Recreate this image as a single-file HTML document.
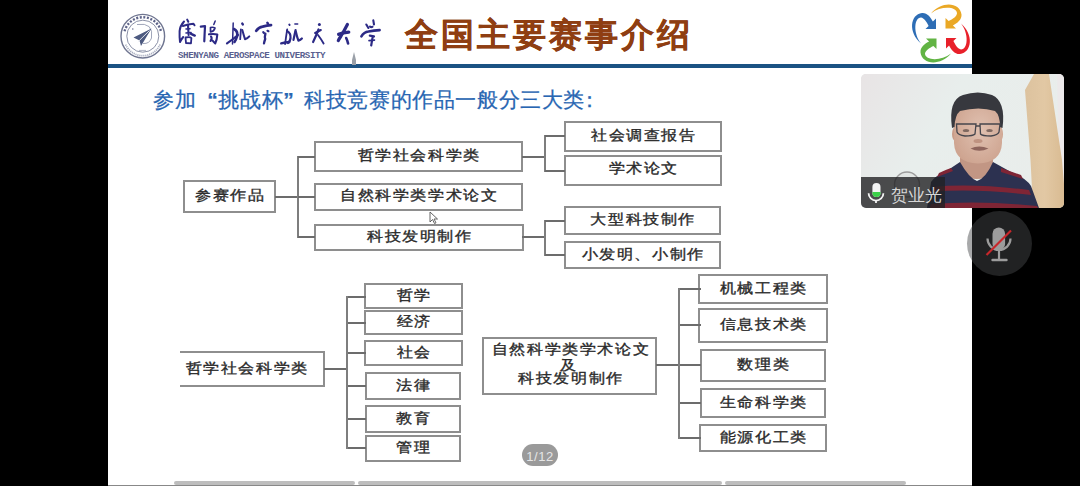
<!DOCTYPE html>
<html><head><meta charset="utf-8">
<style>
*{margin:0;padding:0;box-sizing:border-box}
html,body{width:1080px;height:486px;overflow:hidden;background:#000}
body{position:relative;font-family:"Liberation Serif",serif}
.slide{position:absolute;left:108px;top:0;width:864px;height:486px;background:#fff}
.hline{position:absolute;left:108px;width:864px;top:64px;height:4px;background:#1a5283}
.title{position:absolute;left:405px;top:15px;font-family:"Liberation Sans",sans-serif;font-weight:bold;font-size:33px;letter-spacing:3px;color:#8f3e12;-webkit-text-stroke:0.3px #8f3e12;white-space:nowrap;line-height:40px}
.sub{position:absolute;left:153px;top:86.5px;font-family:"Liberation Sans",sans-serif;font-size:21px;letter-spacing:0.6px;font-weight:500;color:#2866b2;-webkit-text-stroke:0.25px #2866b2;white-space:nowrap;line-height:26px}
.q1{margin-left:11px;font-weight:bold}.q2{margin-right:10px;font-weight:bold}.colon{position:relative;left:-6px}
.box{position:absolute;border:2px solid #8e8e8e;background:#fff;color:#2a2a2a;font-size:16px;letter-spacing:1.6px;text-indent:1.6px;font-weight:500;-webkit-text-stroke:0.4px #2a2a2a;text-align:center;white-space:nowrap;display:flex;align-items:center;justify-content:center;line-height:17px}
.box span,.tl span{display:inline-block;transform:translateY(-1px) scaleY(0.87)}
.tl{position:absolute;color:#2a2a2a;font-size:16px;letter-spacing:1.6px;text-indent:1.6px;font-weight:500;-webkit-text-stroke:0.4px #2a2a2a;text-align:center;white-space:nowrap;line-height:17px}
.ln{position:absolute}.lh{background:#6c6c6c}.lv{background:#7e7e7e}
.bar{position:absolute;top:481px;height:4px;background:#bdbdbd;border-radius:2px}
.bottomline{position:absolute;left:108px;top:485px;width:864px;height:1px;background:#888}
.cal{position:absolute;top:14px;font-size:25px;line-height:30px;color:#2a2f86;font-style:italic;font-family:"Liberation Serif",serif}
.eng{position:absolute;left:178px;top:50.5px;font-family:"Liberation Mono",monospace;font-weight:bold;font-size:9.2px;letter-spacing:-0.44px;line-height:10px;color:#5a5f8f;white-space:nowrap}
.pill{position:absolute;left:521.5px;top:444px;width:36.6px;height:21.5px;border-radius:11px;background:#9a9a9a;color:#e6e6e6;font-family:"Liberation Sans",sans-serif;font-size:13px;line-height:25px;letter-spacing:0.6px;text-indent:0.6px;text-align:center}
.tile{position:absolute;left:861px;top:74px;width:203px;height:134px;border-radius:5px;overflow:hidden;background:#e5e9e7}
.mute{position:absolute;left:966.5px;top:210.5px;width:65px;height:65px;border-radius:50%;background:rgba(70,72,75,0.47)}
</style></head>
<body>
<div class="slide"></div>
<div class="hline"></div>
<!-- emblem -->
<svg style="position:absolute;left:118px;top:11px" width="50" height="50" viewBox="0 0 50 50">
  <circle cx="24.8" cy="25.2" r="21.8" fill="#fff" stroke="#6f7590" stroke-width="1.4"/>
  <circle cx="24.8" cy="25.2" r="16" fill="none" stroke="#7d839c" stroke-width="0.9"/>
  <path d="M6.6 20.3 A18.8 18.8 0 0 1 43 20.3" fill="none" stroke="#5d6388" stroke-width="2.4" stroke-dasharray="2 1.6"/>
  <path d="M42 33.5 A18.8 18.8 0 0 1 7.6 33.5" fill="none" stroke="#a9aec0" stroke-width="1.8" stroke-dasharray="1.2 0.8"/>
  <path d="M19 13.5 Q36 11 33.5 27 Q31.5 33 25 32.5" fill="none" stroke="#a0a6ba" stroke-width="1"/>
  <path d="M15.5 26.5 L33.5 17.5 L23 35 L21.5 29.5 Z" fill="#4d5a80"/>
  <path d="M19.8 31 L31.5 19.5" stroke="#eef0f5" stroke-width="0.9"/>
  <circle cx="14.8" cy="18" r="0.8" fill="#6a7090"/>
  <path d="M21 39.5 L28 39.5" stroke="#b8bccb" stroke-width="1.2"/>
</svg>
<!-- calligraphy -->
<svg style="position:absolute;left:0;top:0" width="400" height="50" viewBox="0 0 400 50">
 <g fill="none" stroke="#2c2a86" stroke-linecap="round" stroke-linejoin="round">
  <!-- char1 -->
  <path d="M184 21.5 Q180 26 179.6 31 Q179.4 37 180 42 Q181.5 39 183.2 37" stroke-width="2"/>
  <path d="M187.2 19.6 L188.3 21.8" stroke-width="2"/>
  <path d="M182.8 26 Q188 24 193.5 23.8 L194.5 25.3" stroke-width="2"/>
  <path d="M188 25 Q188.3 30 188.6 35" stroke-width="2.1"/>
  <path d="M186 29 L190 28.7 M186 33 L191 32.5" stroke-width="1.6"/>
  <path d="M191 33.8 L194.8 35.6" stroke-width="2.4"/>
  <path d="M185.5 37.5 L186 43 M185.5 37.5 Q190 36.5 191.4 38 L191 43.3 M186 43 L191 43.3" stroke-width="1.8"/>
  <!-- char2 -->
  <path d="M200.8 26.6 L205 26.2 Q204.6 34 204.3 41.3" stroke-width="2.2"/>
  <path d="M213.8 24.5 L215.2 21" stroke-width="1.5"/>
  <path d="M210.5 27.5 Q213 26.8 215 28 Q214 31.5 210.5 32 Z" stroke-width="1.7"/>
  <path d="M209 34.3 Q214 33.5 217.3 34.5 Q217 40 215.2 43.4 Q213.5 42 212.5 40.5 M211 36.5 Q212.5 38 210.5 41" stroke-width="2.1"/>
  <!-- char3 -->
  <path d="M233.2 23.1 Q232.8 34 232.5 44" stroke-width="1.5"/>
  <path d="M234 29 Q238 31 237.2 36 Q236 40 234.5 42" stroke-width="2.6"/>
  <path d="M227 43.4 Q232 40 238 35" stroke-width="2.2"/>
  <path d="M242.3 23.6 L242.8 24.4" stroke-width="2.4"/>
  <path d="M240.9 29.4 Q240.6 34 240.2 39.2" stroke-width="1.8"/>
  <path d="M242.3 30 Q244 36 245 39.2 Q247.5 38.5 249.3 36.4" stroke-width="2"/>
  <!-- char4 -->
  <path d="M256.3 30.8 Q259 27 262.6 26.6 Q267 25.5 271 25.2" stroke-width="2.8"/>
  <path d="M267.3 22.8 L268 23.6" stroke-width="2.4"/>
  <path d="M263.3 32.2 L264 33 M267.5 30.8 L268.4 31.2" stroke-width="2.2"/>
  <path d="M265.4 33.6 Q264.5 37 265.2 39 Q264.3 41.5 264 43.4" stroke-width="2.3"/>
  <!-- char5 -->
  <path d="M289.3 24.5 L289.6 25" stroke-width="2"/>
  <path d="M287.2 29.4 Q286 37 285.1 44.1" stroke-width="1.8"/>
  <path d="M287 31 Q291 33 290.5 38 Q290 42 288 43" stroke-width="2.2"/>
  <path d="M281.2 43.4 Q285 42.5 289.3 42" stroke-width="2.3"/>
  <path d="M294.9 24.1 L297.7 24.1" stroke-width="1.5"/>
  <path d="M295.6 30 Q294.5 35 293.5 39.9" stroke-width="2.2"/>
  <path d="M295.8 31.5 Q297 37 298.4 40.6 Q300.5 40 301.9 38.5" stroke-width="2.2"/>
  <!-- char6 -->
  <circle cx="319.4" cy="24.5" r="1.5" fill="#2c2a86" stroke="none"/>
  <path d="M315.2 32.9 L320.8 30.1" stroke-width="2.2"/>
  <path d="M318.5 29.5 Q316 36 313.1 42" stroke-width="2.2"/>
  <path d="M318 35 Q321 39 323.6 43.4" stroke-width="1.9"/>
  <!-- char7 -->
  <path d="M338.6 34.3 Q343 32.5 348.8 32.2" stroke-width="3.2"/>
  <path d="M347.4 24.5 Q344 31 341 36 Q339 39 338.3 40.6" stroke-width="3.2"/>
  <path d="M346.2 38 Q347.6 41 348.1 43.4" stroke-width="2.6"/>
  <!-- char8 -->
  <path d="M366.3 24.5 L368.4 28 M373.3 20.3 L374 24.5 M370 26.5 Q371 27.5 372.5 26.8" stroke-width="2.1"/>
  <path d="M361.4 36.4 Q364 32 368.4 31.5 Q374 30.6 379.6 30.1" stroke-width="2.6"/>
  <path d="M369.8 35.7 L374 36.4 L372.6 37.1 Q372 41 371.2 45.5" stroke-width="2.2"/>
  <path d="M369 40.6 L374.5 40.1" stroke-width="1.6"/>
 </g>
</svg>
<div class="eng">SHENYANG AEROSPACE UNIVERSITY</div>
<svg style="position:absolute;left:350px;top:52px" width="8" height="13" viewBox="0 0 8 13"><path d="M4 0 L6 8 L6 13 L2 13 L2 8 Z" fill="#9aa0a8"/></svg>
<div class="title">全国主要赛事介绍</div>
<!-- arrows logo -->
<svg style="position:absolute;left:901px;top:0px" width="80" height="70" viewBox="-40 -33.5 80 70">
  <defs><path id="arw" d="M -20 10 C -33 -1, -31 -19, -19 -20.5 C -14 -21, -10 -16, -8.1 -11.9 L -5 -15 L -5 -4.5 L -15.5 -4.5 L -12.4 -7.6 C -14.5 -12, -17 -15.5, -20 -16 C -27 -16, -28 0, -20 10 Z"/></defs>
  <use href="#arw" fill="#2d6db5"/>
  <use href="#arw" fill="#eaa825" transform="rotate(90)"/>
  <use href="#arw" fill="#e8202a" transform="rotate(180)"/>
  <use href="#arw" fill="#62b444" transform="rotate(270)"/>
</svg>
<div class="slide" style="left:972px;width:108px;height:80px;background:#000"></div>
<div class="sub">参加<span class="q1">“</span>挑战杯<span class="q2">”</span>科技竞赛的作品一般分三大类<span class="colon">：</span></div>
<div class="box" style="left:183px;top:180px;width:93px;height:33px;"><span>参赛作品</span></div>
<div class="box" style="left:314px;top:141px;width:209px;height:31px;"><span>哲学社会科学类</span></div>
<div class="box" style="left:314px;top:183px;width:209px;height:28px;padding-bottom:2px"><span>自然科学类学术论文</span></div>
<div class="box" style="left:314px;top:224px;width:210px;height:27px;"><span>科技发明制作</span></div>
<div class="box" style="left:564px;top:121px;width:158px;height:31px;"><span>社会调查报告</span></div>
<div class="box" style="left:564px;top:155px;width:158px;height:31px;padding-bottom:2px"><span>学术论文</span></div>
<div class="box" style="left:564px;top:206px;width:157px;height:29px;"><span>大型科技制作</span></div>
<div class="box" style="left:564px;top:241px;width:157px;height:28px;"><span>小发明、小制作</span></div>
<div class="box" style="left:180px;top:351px;width:145px;height:36px;border-left:none;justify-content:flex-start;padding-left:4px"><span>哲学社会科学类</span></div>
<div class="box" style="left:364px;top:283px;width:99px;height:26px;"><span>哲学</span></div>
<div class="box" style="left:364px;top:310px;width:99px;height:25px;"><span>经济</span></div>
<div class="box" style="left:364px;top:340px;width:99px;height:26px;"><span>社会</span></div>
<div class="box" style="left:365px;top:372px;width:96px;height:28px;"><span>法律</span></div>
<div class="box" style="left:365px;top:405px;width:96px;height:28px;"><span>教育</span></div>
<div class="box" style="left:365px;top:435px;width:96px;height:27px;"><span>管理</span></div>
<div class="box" style="left:482px;top:337px;width:175px;height:58px;"><span></span></div>
<div class="box" style="left:698px;top:274px;width:130px;height:30px;"><span>机械工程类</span></div>
<div class="box" style="left:698px;top:308px;width:130px;height:35px;"><span>信息技术类</span></div>
<div class="box" style="left:700px;top:349px;width:126px;height:33px;"><span>数理类</span></div>
<div class="box" style="left:700px;top:388px;width:126px;height:30px;"><span>生命科学类</span></div>
<div class="box" style="left:699px;top:424px;width:128px;height:28px;"><span>能源化工类</span></div>
<div class="ln lh" style="left:275px;top:196px;width:23px;height:2px"></div>
<div class="ln lv" style="left:297px;top:156px;width:2px;height:82px"></div>
<div class="ln lh" style="left:298px;top:156px;width:17px;height:2px"></div>
<div class="ln lh" style="left:298px;top:196px;width:17px;height:2px"></div>
<div class="ln lh" style="left:298px;top:236px;width:17px;height:2px"></div>
<div class="ln lh" style="left:522px;top:156px;width:23px;height:2px"></div>
<div class="ln lv" style="left:544px;top:135px;width:2px;height:37px"></div>
<div class="ln lh" style="left:545px;top:135px;width:20px;height:2px"></div>
<div class="ln lh" style="left:545px;top:170px;width:20px;height:2px"></div>
<div class="ln lh" style="left:522px;top:236px;width:23px;height:2px"></div>
<div class="ln lv" style="left:544px;top:220px;width:2px;height:36px"></div>
<div class="ln lh" style="left:545px;top:220px;width:20px;height:2px"></div>
<div class="ln lh" style="left:545px;top:254px;width:20px;height:2px"></div>
<div class="ln lh" style="left:324px;top:368px;width:24px;height:2px"></div>
<div class="ln lv" style="left:346px;top:296px;width:2px;height:153px"></div>
<div class="ln lh" style="left:348px;top:296px;width:18px;height:2px"></div>
<div class="ln lh" style="left:348px;top:322px;width:18px;height:2px"></div>
<div class="ln lh" style="left:348px;top:352px;width:18px;height:2px"></div>
<div class="ln lh" style="left:348px;top:385px;width:18px;height:2px"></div>
<div class="ln lh" style="left:348px;top:418px;width:18px;height:2px"></div>
<div class="ln lh" style="left:348px;top:447px;width:18px;height:2px"></div>
<div class="ln lh" style="left:656px;top:364px;width:24px;height:2px"></div>
<div class="ln lv" style="left:678px;top:288px;width:2px;height:151px"></div>
<div class="ln lh" style="left:680px;top:288px;width:21px;height:2px"></div>
<div class="ln lh" style="left:680px;top:324px;width:21px;height:2px"></div>
<div class="ln lh" style="left:680px;top:364px;width:21px;height:2px"></div>
<div class="ln lh" style="left:680px;top:402px;width:21px;height:2px"></div>
<div class="ln lh" style="left:680px;top:437px;width:21px;height:2px"></div>
<div class="tl" style="left:482.5px;top:341.5px;width:174px"><span>自然科学类学术论文</span></div><div class="tl" style="left:480.5px;top:357.5px;width:174px"><span>及</span></div><div class="tl" style="left:482.5px;top:371px;width:174px"><span>科技发明制作</span></div>
<!-- cursor -->
<svg style="position:absolute;left:429px;top:211px" width="10" height="14" viewBox="0 0 10 14"><path d="M1 1 L1 11 L3.5 8.5 L5.5 12.5 L7 11.8 L5 8 L8.5 8 Z" fill="#fff" stroke="#555" stroke-width="0.9"/></svg>
<div class="pill">1/12</div>
<div class="bar" style="left:174px;width:181px"></div>
<div class="bar" style="left:358px;width:364px"></div>
<div class="bar" style="left:725px;width:181px"></div>
<div class="bottomline"></div>
<!-- video tile -->
<div class="tile">
  <svg width="203" height="134" viewBox="0 0 203 134" style="position:absolute;left:0;top:0;filter:blur(0.5px)">
    <defs>
      <linearGradient id="wall" x1="0" y1="0" x2="1" y2="0.4">
        <stop offset="0" stop-color="#e8e4e5"/><stop offset="0.45" stop-color="#e8eeec"/><stop offset="1" stop-color="#e9edeb"/>
      </linearGradient>
      <linearGradient id="door" x1="0" y1="0" x2="1" y2="0">
        <stop offset="0" stop-color="#dcc29e"/><stop offset="0.5" stop-color="#e2c8a4"/><stop offset="1" stop-color="#d9bb92"/>
      </linearGradient>
      <radialGradient id="skin" cx="0.55" cy="0.45" r="0.6">
        <stop offset="0" stop-color="#e0c1b1"/><stop offset="1" stop-color="#cea490"/>
      </radialGradient>
    </defs>
    <rect width="203" height="134" fill="url(#wall)"/>
    <path d="M196 0 L203 0 L203 134 L199 134 Z" fill="#ece9ea"/>
    <!-- door -->
    <path d="M173 0 L188 0 L201 86 L203 110 L203 134 L172 134 L169.5 86 L164 16 Z" fill="url(#door)"/>
    <!-- fan -->
    <circle cx="46" cy="110.5" r="12.5" fill="#d8d8d8" fill-opacity="0.35" stroke="#9c9c9c" stroke-width="1.4"/>
    <!-- neck -->
    <path d="M99 80 L132 80 L132 100 Q116 110 99 100 Z" fill="#c29684"/>
    <!-- shirt -->
    <path d="M66 134 L70 108 Q74 102 84 98 L99 88 Q108 104 116 107 Q125 104 132 88 L150 98 Q165 104 170 112 L178 134 Z" fill="#2c3150"/>
    <path d="M78 99 Q84 96 90 94 L92 97 Q84 100 76 103 Z" fill="#7f2535"/>
    <path d="M140 94 L160 101 L162 105 L140 98 Z" fill="#7f2535"/>
    <path d="M72 113 Q110 109 168 116 L170 121 Q110 114 71 118 Z" fill="#7f2535"/>
    <path d="M70 130 Q120 126 176 132 L177 134 L69 134 Z" fill="#7f2535"/>
    <!-- face -->
    <ellipse cx="94.5" cy="60" rx="3.5" ry="7" fill="#c99c88"/>
    <ellipse cx="139" cy="60" rx="3" ry="7" fill="#cfa590"/>
    <path d="M93 44 Q93 28 116.5 28 Q141 28 141 44 L141 69 Q140 89 117 89.5 Q94 89 93 69 Z" fill="url(#skin)"/>
    <!-- hair -->
    <path d="M91 54 Q87 26 102 21 Q117 16 131 21 Q145 27 141.5 54 L139 53 Q139 41 134 37 Q118 32 99 37 Q94 41 93.5 53 Z" fill="#37383e"/>
    <!-- glasses -->
    <path d="M95.5 50 L115 50 L114 60 Q112 62 104 62 Q97 61 96 58 Z" fill="none" stroke="#45454c" stroke-width="1.3"/>
    <path d="M119 50 L139 50 L138 58 Q137 61 130 62 Q121 62 119.5 60 Z" fill="none" stroke="#45454c" stroke-width="1.3"/>
    <path d="M115 52 L119 52" stroke="#3f3f46" stroke-width="1.4"/>
    <!-- eyes/nose -->
    <ellipse cx="105" cy="56.5" rx="3.2" ry="1.6" fill="#6a5650" opacity="0.8"/>
    <ellipse cx="128.5" cy="56.5" rx="3.2" ry="1.6" fill="#6a5650" opacity="0.8"/>
    <ellipse cx="117" cy="67" rx="4.5" ry="2" fill="#b88a78" opacity="0.8"/>
    <!-- mouth -->
    <path d="M109.5 74.5 Q118 70.5 127.5 74.5 Q118 79 109.5 74.5 Z" fill="#8e645c"/>
    <!-- label -->
    <rect x="0" y="103" width="84" height="31" fill="rgba(34,34,36,0.80)"/>
  </svg>
  <svg style="position:absolute;left:6px;top:108px" width="18" height="22" viewBox="0 0 18 22">
    <rect x="5.4" y="1" width="8.1" height="14" rx="4.05" fill="#f4f4f4"/>
    <path d="M5.4 10 L13.5 10 L13.5 10.95 A4.05 4.05 0 0 1 5.4 10.95 Z" fill="#3cd04a"/>
    <path d="M1.6 11.2 A7.4 7.4 0 0 0 16.4 11.2" fill="none" stroke="#f4f4f4" stroke-width="1.8"/>
    <path d="M9 18.4 L9 21" stroke="#f4f4f4" stroke-width="1.8"/>
  </svg>
  <div style="position:absolute;left:30px;top:110.5px;font-family:'Liberation Sans',sans-serif;font-size:16.5px;font-weight:200;line-height:20px;color:#d6d6d6;white-space:nowrap">贺业光</div>
</div>
<!-- mute button -->
<div class="mute">
  <svg width="65" height="65" viewBox="0 0 65 65" style="position:absolute;left:0;top:0">
    <rect x="25.5" y="16.5" width="12.6" height="22.7" rx="6.3" fill="#9c9c9c"/>
    <path d="M20.5 27.5 A11.5 11.5 0 0 0 43.5 27.5" fill="none" stroke="#9c9c9c" stroke-width="2.2"/>
    <path d="M32 39 L32 48" stroke="#9c9c9c" stroke-width="2.2"/>
    <path d="M25.5 49 L39.5 49" stroke="#9c9c9c" stroke-width="2.4" stroke-linecap="round"/>
    <path d="M19.5 44 L44 19.5" stroke="#c8262a" stroke-width="2.2"/>
  </svg>
</div>
</body></html>
